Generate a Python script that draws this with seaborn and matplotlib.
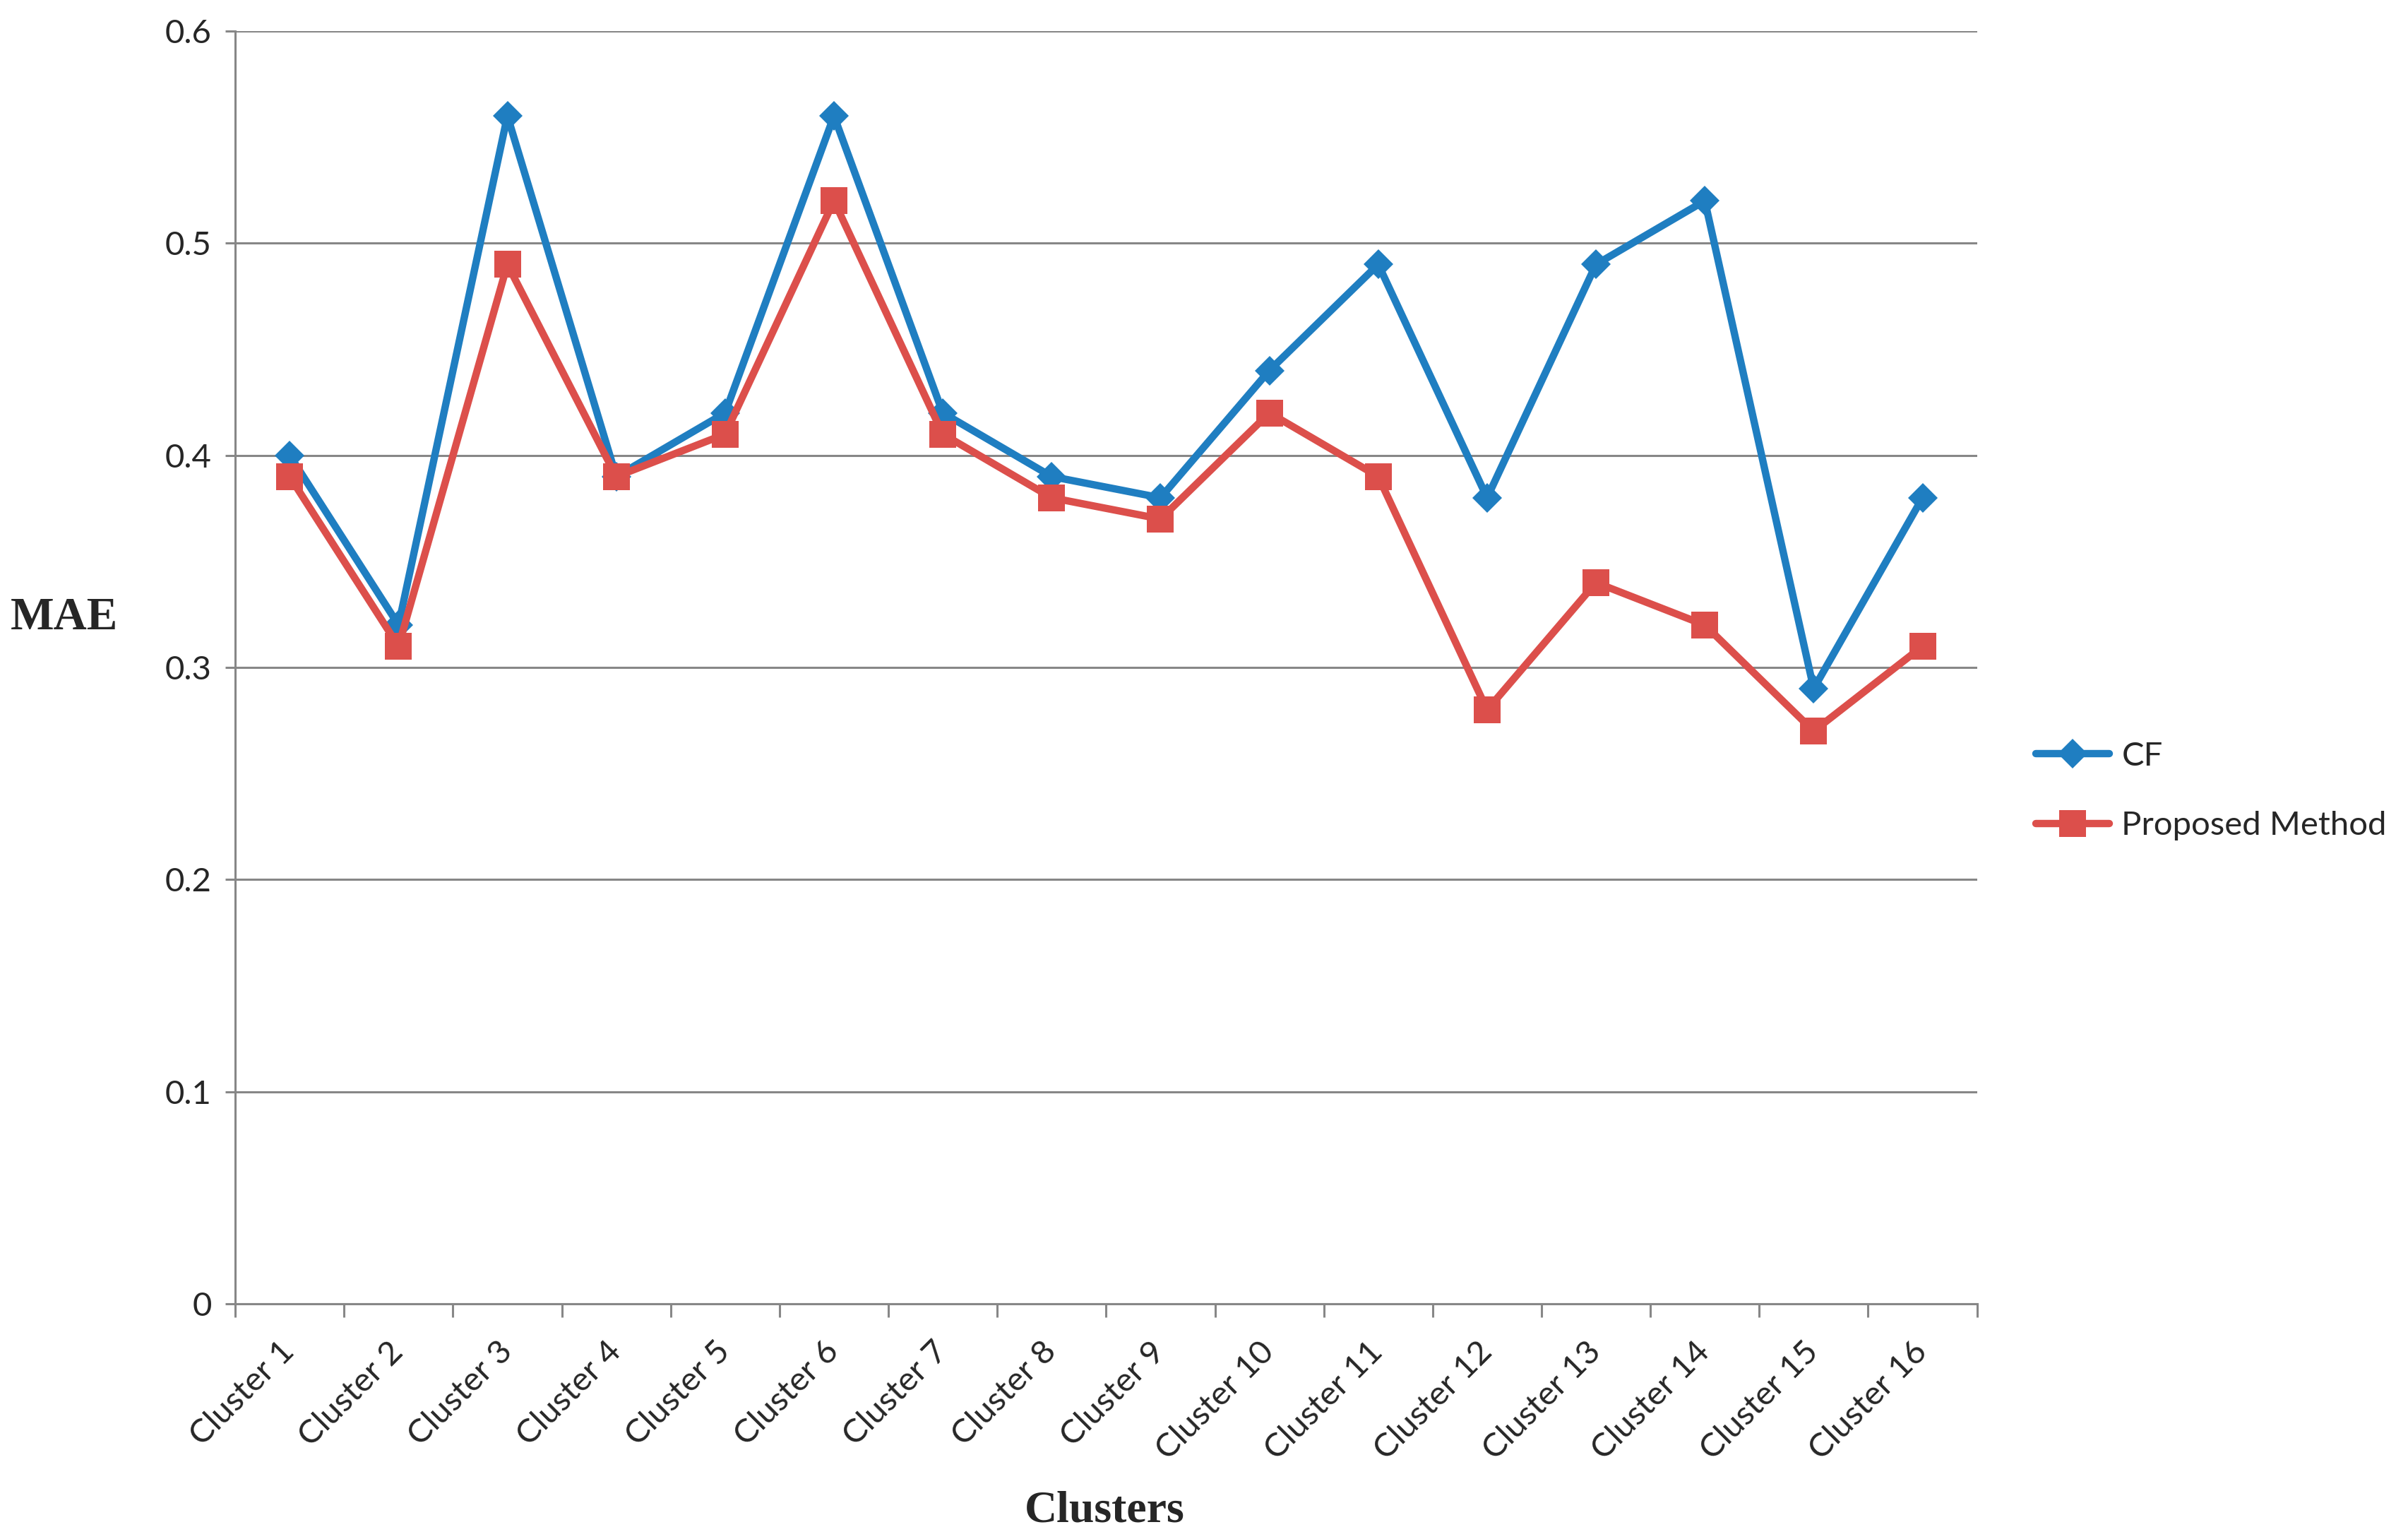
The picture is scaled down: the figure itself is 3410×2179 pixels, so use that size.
import matplotlib
matplotlib.use("Agg")
import matplotlib.pyplot as plt
import seaborn as sns
import pandas as pd

clusters = ["Cluster 1", "Cluster 2", "Cluster 3", "Cluster 4", "Cluster 5", "Cluster 6",
            "Cluster 7", "Cluster 8", "Cluster 9", "Cluster 10", "Cluster 11", "Cluster 12",
            "Cluster 13", "Cluster 14", "Cluster 15", "Cluster 16"]
cf = [0.40, 0.32, 0.56, 0.39, 0.42, 0.56, 0.42, 0.39, 0.38, 0.44, 0.49, 0.38, 0.49, 0.52, 0.29, 0.38]
proposed = [0.39, 0.31, 0.49, 0.39, 0.41, 0.52, 0.41, 0.38, 0.37, 0.42, 0.39, 0.28, 0.34, 0.32, 0.27, 0.31]
yticks = [0, 0.1, 0.2, 0.3, 0.4, 0.5, 0.6]

sns.set_style("white")
plt.rcParams['font.family'] = ['Lato', 'DejaVu Sans']

grey = "#878787"
blue = "#1F7EC1"
red = "#DC4F4B"

df_cf = pd.DataFrame({"pos": range(len(clusters)), "MAE": cf})
df_pm = pd.DataFrame({"pos": range(len(clusters)), "MAE": proposed})

fig = plt.figure(figsize=(34.1, 21.79), dpi=100)
ax = fig.add_axes([0.0977, 0.1528, 0.7233, 0.827])

sns.lineplot(data=df_cf, x="pos", y="MAE", ax=ax, color=blue, lw=7.5, marker="D",
             markersize=21, markeredgewidth=0, label="CF")
sns.lineplot(data=df_pm, x="pos", y="MAE", ax=ax, color=red, lw=7.5, marker="s",
             markersize=28, markeredgewidth=0, label="Proposed Method")

ax.set_xlim(-0.5, len(clusters) - 0.5)
ax.set_ylim(0, 0.6)
ax.set_yticks(yticks)
ax.set_yticklabels(["0", "0.1", "0.2", "0.3", "0.4", "0.5", "0.6"], fontsize=34)
ax.yaxis.grid(True, color=grey, lw=2.2)
ax.set_axisbelow(True)

# category boundaries as major ticks, labels on minor ticks
ax.set_xticks([i - 0.5 for i in range(len(clusters) + 1)])
ax.set_xticklabels([])
ax.set_xticks(range(len(clusters)), minor=True)
ax.set_xticklabels(clusters, minor=True, rotation=45, ha="right", va="center",
                   rotation_mode="anchor", fontsize=34)
ax.tick_params(axis="x", which="major", direction="out", length=14, width=2.2, color=grey, bottom=True)
ax.tick_params(axis="x", which="minor", length=0, pad=44)
ax.tick_params(axis="y", direction="out", length=10, width=2.2, color=grey, left=True, pad=14)

for s in ["top", "right"]:
    ax.spines[s].set_visible(False)
for s in ["left", "bottom"]:
    ax.spines[s].set_color(grey)
    ax.spines[s].set_linewidth(2.2)

ax.set_ylabel("MAE", rotation=0, fontsize=47, fontweight="bold", family="Liberation Serif",
              ha="center", va="center")
ax.yaxis.set_label_coords(-0.098, 0.539)
ax.set_xlabel("Clusters", fontsize=46, fontweight="bold", family="Liberation Serif",
              ha="center", va="center")
ax.xaxis.set_label_coords(0.499, -0.163)

ax.legend(loc="center left", bbox_to_anchor=(0.833, 0.486), bbox_transform=fig.transFigure,
          frameon=False, fontsize=34, handlelength=2.2, handletextpad=0.37, labelspacing=1.2)

fig.savefig("out.png", dpi=100)
